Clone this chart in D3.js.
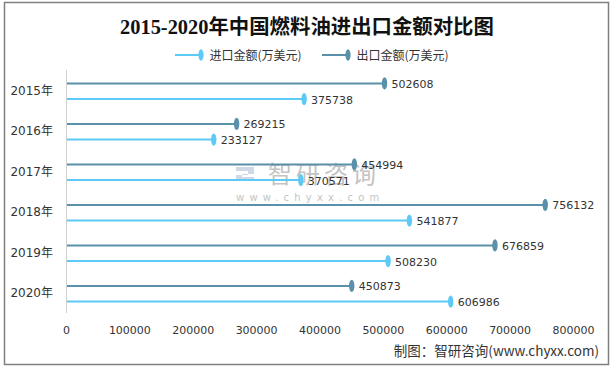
<!DOCTYPE html>
<html><head><meta charset="utf-8">
<script src="https://cdn.jsdelivr.net/npm/d3@7/dist/d3.min.js"></script>
<style>body{margin:0;background:#fff}svg{display:block}</style>
</head><body>
<script>
const years = ["2015年","2016年","2017年","2018年","2019年","2020年"];
const seriesNames = ["出口金额(万美元)","进口金额(万美元)"];
const exportValues = [502608,269215,454994,756132,676859,450873];
const importValues = [375738,233127,370571,541877,508230,606986];
const xTicks = [0,100000,200000,300000,400000,500000,600000,700000,800000];
const legendOrder = ["进口金额(万美元)","出口金额(万美元)"];
const colors = {"出口金额(万美元)":"#5b90aa","进口金额(万美元)":"#5ccaf5"};

const W=613,H=369;
const svg=d3.select("body").append("svg").attr("width",W).attr("height",H);
svg.append("rect").attr("x",4.5).attr("y",2.5).attr("width",604).attr("height",362)
  .attr("fill","#fff").attr("stroke","#808080").attr("stroke-width",1.5);

svg.append("text").attr("x",307).attr("y",33.5).attr("text-anchor","middle")
  .attr("font-family","'Liberation Serif','Noto Sans CJK SC'").attr("font-weight","bold")
  .attr("font-size",20.4).attr("fill","#111").text("2015-2020年中国燃料油进出口金额对比图");

// legend
const legPos=[175,322];
legendOrder.forEach((s,i)=>{
  const g=svg.append("g").attr("transform",`translate(${legPos[i]},55)`);
  g.append("line").attr("x1",0).attr("x2",26).attr("stroke",colors[s]).attr("stroke-width",2);
  g.append("ellipse").attr("cx",26).attr("cy",0).attr("rx",2.6).attr("ry",5.8).attr("fill",colors[s]);
  g.append("text").attr("x",34.5).attr("y",4.5).attr("font-family","'Noto Sans CJK SC'")
    .attr("font-size",12).attr("fill","#333").text(s);
});

const x=d3.scaleLinear().domain([0,800000]).range([66,573]);
const y0=d3.scaleBand().domain(years).range([70,313]);
const y1=d3.scalePoint().domain(seriesNames).range([1,y0.bandwidth()+1]).padding(0.79);

// watermark
const wm=svg.append("g").attr("opacity",0.5);
wm.append("path").attr("d","M236,167h18v7h-12v3h12v4h-18v-6h12v-4h-12z").attr("fill","#9fb4cc");
wm.append("text").attr("x",268).attr("y",183).attr("font-family","'Noto Sans CJK SC'")
  .attr("font-size",24).attr("letter-spacing",4).attr("fill","#888").text("智研咨询");
wm.append("text").attr("x",236).attr("y",201).attr("font-family","'DejaVu Sans'")
  .attr("font-size",10).attr("letter-spacing",5.2).attr("fill","#888").text("www.chyxx.com");

// y axis line
svg.append("line").attr("x1",66.5).attr("x2",66.5).attr("y1",70).attr("y2",313)
  .attr("stroke","#d0d0d0").attr("stroke-width",1);

const data=[];
years.forEach((yr,i)=>{
  data.push({year:yr,s:seriesNames[0],v:exportValues[i]});
  data.push({year:yr,s:seriesNames[1],v:importValues[i]});
});
const g=svg.append("g");
const yy=d=>y0(d.year)+y1(d.s);
g.selectAll("line.stem").data(data).join("line").attr("class","stem")
  .attr("x1",x(0)+1).attr("x2",d=>x(d.v)).attr("y1",yy).attr("y2",yy)
  .attr("stroke",d=>colors[d.s]).attr("stroke-width",2);
g.selectAll("ellipse").data(data).join("ellipse")
  .attr("cx",d=>x(d.v)).attr("cy",yy).attr("rx",2.7).attr("ry",6.2)
  .attr("fill",d=>colors[d.s]);
g.selectAll("text.val").data(data).join("text").attr("class","val")
  .attr("x",d=>x(d.v)+7).attr("y",d=>yy(d)+4.5)
  .attr("font-family","'DejaVu Sans'").attr("font-size",11).attr("fill","#333")
  .text(d=>d.v);

// y labels
svg.selectAll("text.yl").data(years).join("text").attr("class","yl")
  .attr("x",53).attr("y",d=>y0(d)+y0.bandwidth()/2+4.5).attr("text-anchor","end")
  .attr("font-family","'DejaVu Sans','Noto Sans CJK SC'").attr("font-size",12).attr("fill","#333")
  .text(d=>d);

// x axis
const xa=svg.append("g").attr("transform","translate(0,313)")
  .call(d3.axisBottom(x).tickValues(xTicks).tickSize(0).tickPadding(13).tickFormat(d3.format("d")));
xa.select(".domain").remove();
xa.selectAll("text").attr("font-family","'DejaVu Sans'").attr("font-size",11).attr("fill","#333");

svg.append("text").attr("x",599).attr("y",356).attr("text-anchor","end")
  .attr("font-family","'Noto Sans CJK SC'").attr("font-size",13.5).attr("fill","#333")
  .text("制图：智研咨询(www.chyxx.com)");
</script>
</body></html>
